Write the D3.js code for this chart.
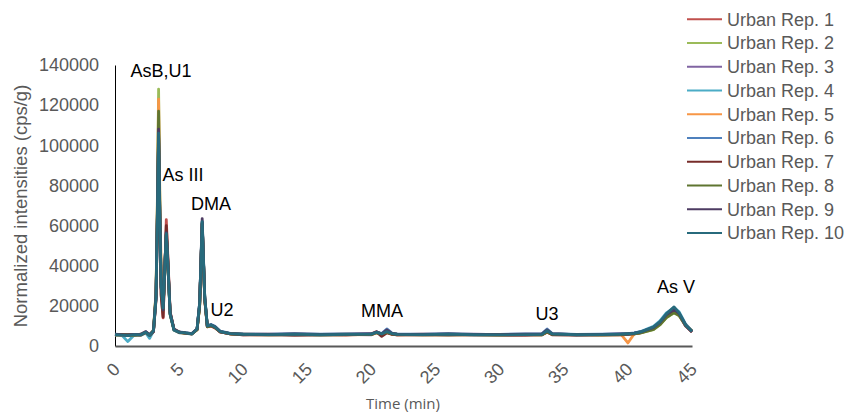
<!DOCTYPE html>
<html>
<head>
<meta charset="utf-8">
<script src="https://cdn.jsdelivr.net/npm/d3@7"></script>
<style>
  body { margin: 0; background: #fff; }
  text { font-family: "Liberation Sans", Arial, sans-serif; }
</style>
</head>
<body>
<svg id="chart" width="845" height="412"></svg>
<script>
// retention time (min), shared by every replicate
const times = [0, 0.5, 1, 1.5, 2, 2.4, 2.7, 3, 3.2, 3.3, 3.4, 3.5, 3.6, 3.75, 3.9, 4, 4.1, 4.3, 4.6, 5,
  5.5, 6, 6.4, 6.6, 6.8, 7, 7.2, 7.5, 7.8, 8.2, 9, 10, 12, 14, 16, 18, 20, 20.4, 20.8, 21.2,
  21.6, 22, 24, 26, 28, 30, 32, 33.3, 33.7, 34.1, 36, 38, 39.5, 40, 40.5, 41, 42, 42.5, 43, 43.6,
  44, 44.5, 45];

// normalized intensities (cps/g)
const rep1 = [5800, 5300, 5600, 5400, 5900, 7200, 5600, 7000, 23000, 60000, 104000, 62000, 26000, 14000, 40000, 63000, 48000, 17000, 8500, 7000,
  6300, 6100, 8200, 20000, 61000, 23000, 9500, 10000, 9000, 7000, 6000, 5600, 5900, 5500, 5800, 5600, 6100, 7200, 5200, 6800,
  6000, 5600, 5900, 5700, 5800, 5600, 5500, 5900, 7200, 5800, 5700, 5500, 5800, 5900, 6200, 6800, 9000, 11500, 15000, 17500,
  15500, 10000, 7000];
const rep2 = [5500, 5700, 5400, 5800, 5600, 6900, 5400, 8000, 27000, 70000, 128000, 72000, 31000, 18000, 40000, 55000, 43000, 15500, 8200, 6900,
  6400, 6200, 8000, 19500, 61500, 23500, 9800, 10200, 9400, 7100, 6100, 5900, 5600, 5800, 5700, 5900, 5800, 6600, 6100, 7000,
  6100, 5900, 5600, 5800, 5700, 5600, 5800, 5700, 7000, 5900, 5800, 5600, 5700, 6000, 6000, 6500, 8200, 10500, 14000, 16500,
  15000, 10200, 7400];
const rep3 = [5700, 5500, 5300, 5600, 5700, 7000, 5500, 7300, 24500, 63000, 104000, 63000, 29000, 18500, 41000, 55000, 43500, 16000, 8000, 6800,
  6400, 6100, 8300, 20500, 61000, 23500, 9700, 10300, 9300, 7000, 6100, 5700, 5800, 5600, 5700, 5800, 5600, 6900, 5900, 7100,
  6000, 5700, 5800, 5600, 5900, 5700, 5600, 5800, 7300, 5900, 5500, 5800, 5700, 5900, 6200, 6700, 9000, 11500, 15500, 17500,
  15500, 10000, 7100];
const rep4 = [5400, 5600, 2200, 5500, 5300, 6500, 3800, 7400, 24000, 61000, 103000, 62000, 29000, 18500, 41500, 55500, 43000, 15800, 7800, 6600,
  6300, 5900, 8400, 21000, 61500, 24000, 9800, 10400, 9600, 7300, 6200, 5800, 5600, 5700, 5500, 5700, 5800, 6700, 5900, 7000,
  6100, 5700, 5600, 5800, 5500, 5600, 5800, 5700, 7400, 5900, 5600, 5700, 5800, 6000, 6400, 7200, 9800, 12500, 16500, 19000,
  17000, 11000, 7400];
const rep5 = [5600, 5400, 5700, 5500, 5400, 6700, 5500, 7800, 26500, 68000, 123000, 70000, 40000, 28000, 42000, 56000, 44000, 16200, 8100, 6700,
  6300, 6000, 8100, 20000, 60500, 23000, 9600, 10100, 9200, 7000, 6000, 5700, 5500, 5700, 5600, 5500, 5700, 6500, 5800, 6900,
  5900, 5600, 5500, 5700, 5600, 5400, 5600, 5600, 6900, 5700, 5500, 5600, 5500, 1500, 6100, 6600, 8700, 11000, 14800, 17300,
  15600, 10400, 7300];
const rep6 = [5900, 5600, 5500, 5700, 5800, 7100, 5700, 7600, 25000, 63000, 105000, 64000, 30000, 18000, 42500, 57000, 45000, 16500, 8400, 7000,
  6600, 6200, 8600, 21500, 62000, 24500, 10200, 10700, 9800, 7400, 6300, 6000, 5900, 6100, 5900, 6000, 6100, 7000, 6200, 8500,
  6400, 6000, 5900, 6100, 5800, 5800, 6000, 6100, 8500, 6200, 5800, 5900, 6100, 6200, 6500, 7100, 9400, 12000, 15800, 18000,
  16000, 10600, 7300];
const rep7 = [5500, 5800, 5400, 5600, 5500, 6900, 5300, 7100, 23500, 61000, 104000, 61000, 25000, 14500, 41000, 60000, 46500, 16800, 8300, 6900,
  6400, 6100, 8200, 20200, 60800, 23200, 9600, 10000, 9100, 7000, 6000, 5500, 5700, 5400, 5600, 5500, 5800, 7000, 4800, 6600,
  5800, 5500, 5600, 5500, 5700, 5500, 5400, 5600, 7000, 5600, 5400, 5500, 5600, 5800, 6100, 6700, 8900, 11200, 15000, 17800,
  15800, 10200, 7000];
const rep8 = [5600, 5500, 5600, 5300, 5700, 6800, 5500, 7700, 26000, 66000, 117000, 67000, 30000, 18000, 41000, 55500, 43500, 15800, 8000, 6800,
  6400, 6100, 8100, 20000, 61200, 23500, 9700, 10200, 9300, 7100, 6100, 5800, 5700, 5800, 5600, 5700, 5700, 6700, 6000, 6900,
  6000, 5800, 5700, 5600, 5700, 5600, 5700, 5600, 7100, 5800, 5700, 5600, 5700, 6000, 6100, 6500, 8300, 10600, 14200, 16600,
  15200, 10300, 7500];
const rep9 = [5800, 5600, 5500, 5800, 5600, 7000, 5600, 7500, 25000, 64000, 108000, 64500, 29500, 18000, 42000, 56500, 44500, 16300, 8200, 6900,
  6500, 6200, 8500, 21500, 63500, 24500, 10000, 10500, 9600, 7200, 6200, 5900, 5800, 6000, 5800, 5900, 6000, 6900, 6100, 8000,
  6300, 5900, 5800, 6000, 5800, 5700, 5900, 6000, 8000, 6100, 5700, 5800, 6000, 6100, 6400, 7000, 9300, 11800, 15600, 18200,
  16200, 10500, 7200];
const rep10 = [5600, 5400, 5200, 5700, 5500, 6800, 5200, 7500, 24000, 62000, 106000, 64000, 30000, 19000, 42000, 56000, 44000, 16000, 8000, 6800,
  6500, 6000, 8500, 21000, 62000, 24000, 10000, 10500, 9500, 7200, 6200, 5800, 5700, 5900, 5600, 5800, 5900, 6800, 6000, 7200,
  6200, 5800, 5700, 5900, 5600, 5500, 5700, 5800, 7600, 6000, 5600, 5700, 5900, 6100, 6300, 7000, 9500, 12000, 16000, 19500,
  16500, 10500, 7200];

const seriesNames = ["Urban Rep. 1", "Urban Rep. 2", "Urban Rep. 3", "Urban Rep. 4", "Urban Rep. 5",
  "Urban Rep. 6", "Urban Rep. 7", "Urban Rep. 8", "Urban Rep. 9", "Urban Rep. 10"];
const seriesValues = [rep1, rep2, rep3, rep4, rep5, rep6, rep7, rep8, rep9, rep10];
const seriesColors = ["#c0504d", "#9bbb59", "#8064a2", "#4bacc6", "#f79646",
  "#4f81bd", "#772c2a", "#5f7530", "#4d3b62", "#276a7c"];

const xTicks = [0, 5, 10, 15, 20, 25, 30, 35, 40, 45];
const yTicks = [0, 20000, 40000, 60000, 80000, 100000, 120000, 140000];

// peak names, placed at (time, intensity)
const peakNames = ["AsB,U1", "As III", "DMA", "U2", "MMA", "U3", "As V"];
const peakTimes = [3.59, 5.3, 7.49, 8.35, 20.82, 33.69, 43.75];
const peakLevels = [134000, 82000, 68000, 15000, 14500, 13000, 26500];

const svg = d3.select("#chart");
const x = d3.scaleLinear().domain([0, 45]).range([115, 692]);
const y = d3.scaleLinear().domain([0, 140000]).range([346, 65]);

// y axis
const yAxis = svg.append("g")
  .attr("transform", "translate(115,0)")
  .call(d3.axisLeft(y).tickValues(yTicks).tickFormat(d3.format("d")).tickSize(0).tickPadding(16));
yAxis.select(".domain").attr("stroke", "#000").attr("stroke-width", 1);
yAxis.selectAll("text")
  .attr("fill", "#595959")
  .style("font-size", "18px")
  .style("font-family", "'Liberation Sans', Arial, sans-serif");

// x axis
const xAxis = svg.append("g")
  .attr("transform", "translate(0,346)")
  .call(d3.axisBottom(x).tickValues(xTicks).tickSize(0));
xAxis.select(".domain").attr("stroke", "#595959").attr("stroke-width", 2);
xAxis.selectAll("text")
  .attr("x", 0)
  .attr("y", 0)
  .attr("dy", "0.35em")
  .attr("text-anchor", "end")
  .attr("transform", "translate(1,20) rotate(-45)")
  .attr("fill", "#595959")
  .style("font-size", "18px")
  .style("font-family", "'Liberation Sans', Arial, sans-serif");

// series lines, first replicate at the bottom
const line = d3.line()
  .x((d, i) => x(times[i]))
  .y(d => y(d));

svg.append("g")
  .selectAll("path")
  .data(seriesValues)
  .enter()
  .append("path")
  .attr("d", d => line(d))
  .attr("fill", "none")
  .attr("stroke", (d, i) => seriesColors[i])
  .attr("stroke-width", 2.8)
  .attr("stroke-linejoin", "round");

// peak labels
svg.append("g")
  .selectAll("text")
  .data(peakNames)
  .enter()
  .append("text")
  .attr("x", (d, i) => x(peakTimes[i]))
  .attr("y", (d, i) => y(peakLevels[i]))
  .attr("text-anchor", "middle")
  .attr("fill", "#000")
  .style("font-size", "18px")
  .text(d => d);

// axis titles
svg.append("text")
  .attr("transform", "translate(27,206) rotate(-90)")
  .attr("text-anchor", "middle")
  .attr("fill", "#595959")
  .style("font-size", "18.5px")
  .text("Normalized intensities (cps/g)");

svg.append("text")
  .attr("x", 403)
  .attr("y", 409)
  .attr("text-anchor", "middle")
  .attr("fill", "#595959")
  .style("font-family", "'Open Sans', sans-serif")
  .style("font-size", "15px")
  .text("Time (min)");

// legend
const legend = svg.append("g")
  .selectAll("g")
  .data(seriesNames)
  .enter()
  .append("g")
  .attr("transform", (d, i) => "translate(687," + (19.3 + i * 23.75) + ")");

legend.append("line")
  .attr("x1", 0)
  .attr("x2", 35)
  .attr("stroke", (d, i) => seriesColors[i])
  .attr("stroke-width", 2);

legend.append("text")
  .attr("x", 40)
  .attr("dy", "0.35em")
  .attr("fill", "#595959")
  .style("font-size", "18px")
  .text(d => d);
</script>
</body>
</html>
